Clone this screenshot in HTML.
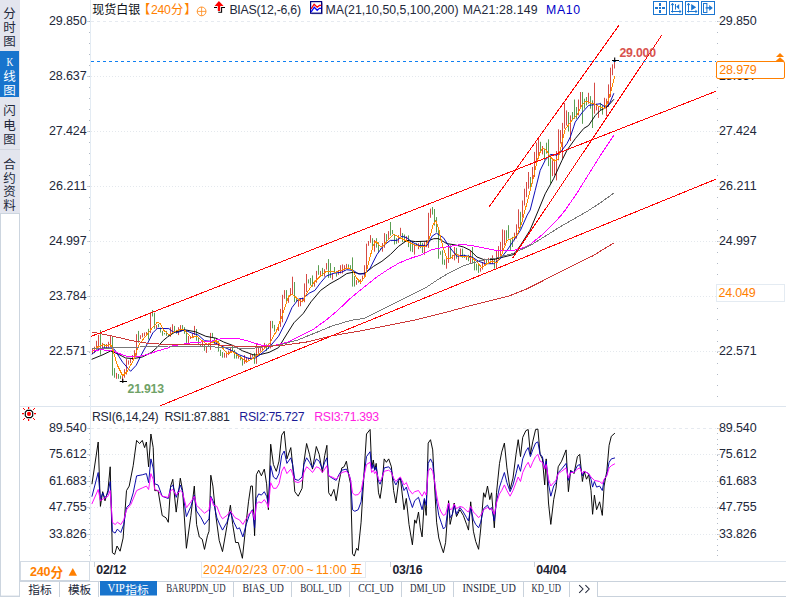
<!DOCTYPE html>
<html><head><meta charset="utf-8"><title>chart</title><style>html,body{margin:0;padding:0;background:#fff;width:786px;height:597px;overflow:hidden}svg{position:absolute;left:0;top:0}svg text{white-space:pre}</style></head><body><svg width="786" height="597" viewBox="0 0 786 597" style="display:block"><rect x="0" y="0" width="786" height="597" fill="#ffffff"/>
<rect x="0" y="0" width="20" height="213" fill="#e3e5ee"/>
<rect x="0" y="51" width="19" height="46" fill="#1874cd"/>
<rect x="0" y="149" width="20" height="1" fill="#d2d6e0"/>
<rect x="0" y="213" width="20" height="384" fill="#ccd5df"/><rect x="1" y="214" width="18" height="381.6" fill="#ffffff"/>
<text x="9.5" y="17.6" font-family="'Liberation Sans', 'Noto Sans CJK SC', sans-serif" font-size="12.5px" fill="#22283a" text-anchor="middle">分</text>
<text x="9.5" y="31.6" font-family="'Liberation Sans', 'Noto Sans CJK SC', sans-serif" font-size="12.5px" fill="#22283a" text-anchor="middle">时</text>
<text x="9.5" y="46" font-family="'Liberation Sans', 'Noto Sans CJK SC', sans-serif" font-size="12.5px" fill="#22283a" text-anchor="middle">图</text>
<text x="9.5" y="81" font-family="'Liberation Sans', 'Noto Sans CJK SC', sans-serif" font-size="12.5px" fill="#ffffff" text-anchor="middle">线</text>
<text x="9.5" y="94.6" font-family="'Liberation Sans', 'Noto Sans CJK SC', sans-serif" font-size="12.5px" fill="#ffffff" text-anchor="middle">图</text>
<text x="6.6" y="65.6" font-family="'Liberation Serif', serif" font-size="11.5px" fill="#fff" textLength="6.8" lengthAdjust="spacingAndGlyphs">K</text>
<text x="9.5" y="115.2" font-family="'Liberation Sans', 'Noto Sans CJK SC', sans-serif" font-size="12.5px" fill="#22283a" text-anchor="middle">闪</text>
<text x="9.5" y="129.6" font-family="'Liberation Sans', 'Noto Sans CJK SC', sans-serif" font-size="12.5px" fill="#22283a" text-anchor="middle">电</text>
<text x="9.5" y="144.4" font-family="'Liberation Sans', 'Noto Sans CJK SC', sans-serif" font-size="12.5px" fill="#22283a" text-anchor="middle">图</text>
<text x="9.5" y="169" font-family="'Liberation Sans', 'Noto Sans CJK SC', sans-serif" font-size="12.5px" fill="#22283a" text-anchor="middle">合</text>
<text x="9.5" y="182.6" font-family="'Liberation Sans', 'Noto Sans CJK SC', sans-serif" font-size="12.5px" fill="#22283a" text-anchor="middle">约</text>
<text x="9.5" y="196.2" font-family="'Liberation Sans', 'Noto Sans CJK SC', sans-serif" font-size="12.5px" fill="#22283a" text-anchor="middle">资</text>
<text x="9.5" y="209.8" font-family="'Liberation Sans', 'Noto Sans CJK SC', sans-serif" font-size="12.5px" fill="#22283a" text-anchor="middle">料</text>
<rect x="20" y="406" width="766" height="1" fill="#dde5ee"/>
<rect x="90" y="561" width="696" height="1" fill="#dde5ee"/>
<rect x="90" y="0" width="1" height="562" fill="#e3ebf3"/>
<path d="M91 21.5 H716" stroke="#e6eaf0" stroke-width="1" stroke-dasharray="3 3" fill="none"/>
<rect x="87" y="21" width="3" height="1" fill="#cfd3da"/><rect x="717" y="21" width="3" height="1" fill="#d4d8de"/>
<path d="M91 76.5 H716" stroke="#e4e8ed" stroke-width="1" stroke-dasharray="1 2" fill="none"/>
<rect x="87" y="76" width="3" height="1" fill="#cfd3da"/><rect x="717" y="76" width="3" height="1" fill="#d4d8de"/>
<path d="M91 131.5 H716" stroke="#e4e8ed" stroke-width="1" stroke-dasharray="1 2" fill="none"/>
<rect x="87" y="131" width="3" height="1" fill="#cfd3da"/><rect x="717" y="131" width="3" height="1" fill="#d4d8de"/>
<path d="M91 186.5 H716" stroke="#e4e8ed" stroke-width="1" stroke-dasharray="1 2" fill="none"/>
<rect x="87" y="186" width="3" height="1" fill="#cfd3da"/><rect x="717" y="186" width="3" height="1" fill="#d4d8de"/>
<path d="M91 241.5 H716" stroke="#e4e8ed" stroke-width="1" stroke-dasharray="1 2" fill="none"/>
<rect x="87" y="241" width="3" height="1" fill="#cfd3da"/><rect x="717" y="241" width="3" height="1" fill="#d4d8de"/>
<path d="M91 296.5 H716" stroke="#e4e8ed" stroke-width="1" stroke-dasharray="1 2" fill="none"/>
<rect x="87" y="296" width="3" height="1" fill="#cfd3da"/><rect x="717" y="296" width="3" height="1" fill="#d4d8de"/>
<path d="M91 351.5 H716" stroke="#e4e8ed" stroke-width="1" stroke-dasharray="1 2" fill="none"/>
<rect x="87" y="351" width="3" height="1" fill="#cfd3da"/><rect x="717" y="351" width="3" height="1" fill="#d4d8de"/>
<path d="M91 428.5 H716" stroke="#e6eaf0" stroke-width="1" stroke-dasharray="3 3" fill="none"/>
<rect x="87" y="428" width="3" height="1" fill="#cfd3da"/><rect x="717" y="428" width="3" height="1" fill="#d4d8de"/>
<path d="M91 454.5 H716" stroke="#e4e8ed" stroke-width="1" stroke-dasharray="1 2" fill="none"/>
<rect x="87" y="454" width="3" height="1" fill="#cfd3da"/><rect x="717" y="454" width="3" height="1" fill="#d4d8de"/>
<path d="M91 481.5 H716" stroke="#e4e8ed" stroke-width="1" stroke-dasharray="1 2" fill="none"/>
<rect x="87" y="481" width="3" height="1" fill="#cfd3da"/><rect x="717" y="481" width="3" height="1" fill="#d4d8de"/>
<path d="M91 507.5 H716" stroke="#e4e8ed" stroke-width="1" stroke-dasharray="1 2" fill="none"/>
<rect x="87" y="507" width="3" height="1" fill="#cfd3da"/><rect x="717" y="507" width="3" height="1" fill="#d4d8de"/>
<path d="M91 534.5 H716" stroke="#e4e8ed" stroke-width="1" stroke-dasharray="1 2" fill="none"/>
<rect x="87" y="534" width="3" height="1" fill="#cfd3da"/><rect x="717" y="534" width="3" height="1" fill="#d4d8de"/>
<rect x="89" y="21" width="1" height="1" fill="#b2bac6"/><rect x="717" y="21" width="1" height="1" fill="#b2bac6"/>
<rect x="89" y="32" width="1" height="1" fill="#b2bac6"/><rect x="717" y="32" width="1" height="1" fill="#b2bac6"/>
<rect x="89" y="43" width="1" height="1" fill="#b2bac6"/><rect x="717" y="43" width="1" height="1" fill="#b2bac6"/>
<rect x="89" y="54" width="1" height="1" fill="#b2bac6"/><rect x="717" y="54" width="1" height="1" fill="#b2bac6"/>
<rect x="89" y="65" width="1" height="1" fill="#b2bac6"/><rect x="717" y="65" width="1" height="1" fill="#b2bac6"/>
<rect x="89" y="76" width="1" height="1" fill="#b2bac6"/><rect x="717" y="76" width="1" height="1" fill="#b2bac6"/>
<rect x="89" y="87" width="1" height="1" fill="#b2bac6"/><rect x="717" y="87" width="1" height="1" fill="#b2bac6"/>
<rect x="89" y="98" width="1" height="1" fill="#b2bac6"/><rect x="717" y="98" width="1" height="1" fill="#b2bac6"/>
<rect x="89" y="109" width="1" height="1" fill="#b2bac6"/><rect x="717" y="109" width="1" height="1" fill="#b2bac6"/>
<rect x="89" y="120" width="1" height="1" fill="#b2bac6"/><rect x="717" y="120" width="1" height="1" fill="#b2bac6"/>
<rect x="89" y="131" width="1" height="1" fill="#b2bac6"/><rect x="717" y="131" width="1" height="1" fill="#b2bac6"/>
<rect x="89" y="142" width="1" height="1" fill="#b2bac6"/><rect x="717" y="142" width="1" height="1" fill="#b2bac6"/>
<rect x="89" y="153" width="1" height="1" fill="#b2bac6"/><rect x="717" y="153" width="1" height="1" fill="#b2bac6"/>
<rect x="89" y="164" width="1" height="1" fill="#b2bac6"/><rect x="717" y="164" width="1" height="1" fill="#b2bac6"/>
<rect x="89" y="175" width="1" height="1" fill="#b2bac6"/><rect x="717" y="175" width="1" height="1" fill="#b2bac6"/>
<rect x="89" y="186" width="1" height="1" fill="#b2bac6"/><rect x="717" y="186" width="1" height="1" fill="#b2bac6"/>
<rect x="89" y="197" width="1" height="1" fill="#b2bac6"/><rect x="717" y="197" width="1" height="1" fill="#b2bac6"/>
<rect x="89" y="208" width="1" height="1" fill="#b2bac6"/><rect x="717" y="208" width="1" height="1" fill="#b2bac6"/>
<rect x="89" y="219" width="1" height="1" fill="#b2bac6"/><rect x="717" y="219" width="1" height="1" fill="#b2bac6"/>
<rect x="89" y="230" width="1" height="1" fill="#b2bac6"/><rect x="717" y="230" width="1" height="1" fill="#b2bac6"/>
<rect x="89" y="241" width="1" height="1" fill="#b2bac6"/><rect x="717" y="241" width="1" height="1" fill="#b2bac6"/>
<rect x="89" y="252" width="1" height="1" fill="#b2bac6"/><rect x="717" y="252" width="1" height="1" fill="#b2bac6"/>
<rect x="89" y="263" width="1" height="1" fill="#b2bac6"/><rect x="717" y="263" width="1" height="1" fill="#b2bac6"/>
<rect x="89" y="274" width="1" height="1" fill="#b2bac6"/><rect x="717" y="274" width="1" height="1" fill="#b2bac6"/>
<rect x="89" y="285" width="1" height="1" fill="#b2bac6"/><rect x="717" y="285" width="1" height="1" fill="#b2bac6"/>
<rect x="89" y="296" width="1" height="1" fill="#b2bac6"/><rect x="717" y="296" width="1" height="1" fill="#b2bac6"/>
<rect x="89" y="308" width="1" height="1" fill="#b2bac6"/><rect x="717" y="308" width="1" height="1" fill="#b2bac6"/>
<rect x="89" y="319" width="1" height="1" fill="#b2bac6"/><rect x="717" y="319" width="1" height="1" fill="#b2bac6"/>
<rect x="89" y="330" width="1" height="1" fill="#b2bac6"/><rect x="717" y="330" width="1" height="1" fill="#b2bac6"/>
<rect x="89" y="341" width="1" height="1" fill="#b2bac6"/><rect x="717" y="341" width="1" height="1" fill="#b2bac6"/>
<rect x="89" y="352" width="1" height="1" fill="#b2bac6"/><rect x="717" y="352" width="1" height="1" fill="#b2bac6"/>
<rect x="89" y="363" width="1" height="1" fill="#b2bac6"/><rect x="717" y="363" width="1" height="1" fill="#b2bac6"/>
<rect x="89" y="374" width="1" height="1" fill="#b2bac6"/><rect x="717" y="374" width="1" height="1" fill="#b2bac6"/>
<rect x="89" y="385" width="1" height="1" fill="#b2bac6"/><rect x="717" y="385" width="1" height="1" fill="#b2bac6"/>
<rect x="89" y="396" width="1" height="1" fill="#b2bac6"/><rect x="717" y="396" width="1" height="1" fill="#b2bac6"/>
<rect x="89" y="428" width="1" height="1" fill="#b2bac6"/><rect x="717" y="428" width="1" height="1" fill="#b2bac6"/>
<rect x="89" y="433" width="1" height="1" fill="#b2bac6"/><rect x="717" y="433" width="1" height="1" fill="#b2bac6"/>
<rect x="89" y="439" width="1" height="1" fill="#b2bac6"/><rect x="717" y="439" width="1" height="1" fill="#b2bac6"/>
<rect x="89" y="444" width="1" height="1" fill="#b2bac6"/><rect x="717" y="444" width="1" height="1" fill="#b2bac6"/>
<rect x="89" y="449" width="1" height="1" fill="#b2bac6"/><rect x="717" y="449" width="1" height="1" fill="#b2bac6"/>
<rect x="89" y="455" width="1" height="1" fill="#b2bac6"/><rect x="717" y="455" width="1" height="1" fill="#b2bac6"/>
<rect x="89" y="460" width="1" height="1" fill="#b2bac6"/><rect x="717" y="460" width="1" height="1" fill="#b2bac6"/>
<rect x="89" y="465" width="1" height="1" fill="#b2bac6"/><rect x="717" y="465" width="1" height="1" fill="#b2bac6"/>
<rect x="89" y="470" width="1" height="1" fill="#b2bac6"/><rect x="717" y="470" width="1" height="1" fill="#b2bac6"/>
<rect x="89" y="476" width="1" height="1" fill="#b2bac6"/><rect x="717" y="476" width="1" height="1" fill="#b2bac6"/>
<rect x="89" y="481" width="1" height="1" fill="#b2bac6"/><rect x="717" y="481" width="1" height="1" fill="#b2bac6"/>
<rect x="89" y="486" width="1" height="1" fill="#b2bac6"/><rect x="717" y="486" width="1" height="1" fill="#b2bac6"/>
<rect x="89" y="492" width="1" height="1" fill="#b2bac6"/><rect x="717" y="492" width="1" height="1" fill="#b2bac6"/>
<rect x="89" y="497" width="1" height="1" fill="#b2bac6"/><rect x="717" y="497" width="1" height="1" fill="#b2bac6"/>
<rect x="89" y="502" width="1" height="1" fill="#b2bac6"/><rect x="717" y="502" width="1" height="1" fill="#b2bac6"/>
<rect x="89" y="508" width="1" height="1" fill="#b2bac6"/><rect x="717" y="508" width="1" height="1" fill="#b2bac6"/>
<rect x="89" y="513" width="1" height="1" fill="#b2bac6"/><rect x="717" y="513" width="1" height="1" fill="#b2bac6"/>
<rect x="89" y="518" width="1" height="1" fill="#b2bac6"/><rect x="717" y="518" width="1" height="1" fill="#b2bac6"/>
<rect x="89" y="523" width="1" height="1" fill="#b2bac6"/><rect x="717" y="523" width="1" height="1" fill="#b2bac6"/>
<rect x="89" y="529" width="1" height="1" fill="#b2bac6"/><rect x="717" y="529" width="1" height="1" fill="#b2bac6"/>
<rect x="89" y="534" width="1" height="1" fill="#b2bac6"/><rect x="717" y="534" width="1" height="1" fill="#b2bac6"/>
<rect x="89" y="539" width="1" height="1" fill="#b2bac6"/><rect x="717" y="539" width="1" height="1" fill="#b2bac6"/>
<rect x="89" y="545" width="1" height="1" fill="#b2bac6"/><rect x="717" y="545" width="1" height="1" fill="#b2bac6"/>
<rect x="89" y="550" width="1" height="1" fill="#b2bac6"/><rect x="717" y="550" width="1" height="1" fill="#b2bac6"/>
<rect x="89" y="555" width="1" height="1" fill="#b2bac6"/><rect x="717" y="555" width="1" height="1" fill="#b2bac6"/>
<text x="86.6" y="25.2" font-family="'Liberation Sans', sans-serif" font-size="12.5px" fill="#22283a" font-weight="normal" text-anchor="end" textLength="37.6" lengthAdjust="spacing" >29.850</text>
<text x="719" y="25.2" font-family="'Liberation Sans', sans-serif" font-size="12.5px" fill="#22283a" font-weight="normal" text-anchor="start" textLength="37.6" lengthAdjust="spacing" >29.850</text>
<text x="86.6" y="80.2" font-family="'Liberation Sans', sans-serif" font-size="12.5px" fill="#22283a" font-weight="normal" text-anchor="end" textLength="37.6" lengthAdjust="spacing" >28.637</text>
<text x="719" y="80.2" font-family="'Liberation Sans', sans-serif" font-size="12.5px" fill="#22283a" font-weight="normal" text-anchor="start" textLength="37.6" lengthAdjust="spacing" >28.637</text>
<text x="86.6" y="135.2" font-family="'Liberation Sans', sans-serif" font-size="12.5px" fill="#22283a" font-weight="normal" text-anchor="end" textLength="37.6" lengthAdjust="spacing" >27.424</text>
<text x="719" y="135.2" font-family="'Liberation Sans', sans-serif" font-size="12.5px" fill="#22283a" font-weight="normal" text-anchor="start" textLength="37.6" lengthAdjust="spacing" >27.424</text>
<text x="86.6" y="190.2" font-family="'Liberation Sans', sans-serif" font-size="12.5px" fill="#22283a" font-weight="normal" text-anchor="end" textLength="37.6" lengthAdjust="spacing" >26.211</text>
<text x="719" y="190.2" font-family="'Liberation Sans', sans-serif" font-size="12.5px" fill="#22283a" font-weight="normal" text-anchor="start" textLength="37.6" lengthAdjust="spacing" >26.211</text>
<text x="86.6" y="245.2" font-family="'Liberation Sans', sans-serif" font-size="12.5px" fill="#22283a" font-weight="normal" text-anchor="end" textLength="37.6" lengthAdjust="spacing" >24.997</text>
<text x="719" y="245.2" font-family="'Liberation Sans', sans-serif" font-size="12.5px" fill="#22283a" font-weight="normal" text-anchor="start" textLength="37.6" lengthAdjust="spacing" >24.997</text>
<text x="86.6" y="300.2" font-family="'Liberation Sans', sans-serif" font-size="12.5px" fill="#22283a" font-weight="normal" text-anchor="end" textLength="37.6" lengthAdjust="spacing" >23.784</text>
<text x="719" y="300.2" font-family="'Liberation Sans', sans-serif" font-size="12.5px" fill="#22283a" font-weight="normal" text-anchor="start" textLength="37.6" lengthAdjust="spacing" >23.784</text>
<text x="86.6" y="355.2" font-family="'Liberation Sans', sans-serif" font-size="12.5px" fill="#22283a" font-weight="normal" text-anchor="end" textLength="37.6" lengthAdjust="spacing" >22.571</text>
<text x="719" y="355.2" font-family="'Liberation Sans', sans-serif" font-size="12.5px" fill="#22283a" font-weight="normal" text-anchor="start" textLength="37.6" lengthAdjust="spacing" >22.571</text>
<text x="86.6" y="432.2" font-family="'Liberation Sans', sans-serif" font-size="12.5px" fill="#22283a" font-weight="normal" text-anchor="end" textLength="37.6" lengthAdjust="spacing" >89.540</text>
<text x="719" y="432.2" font-family="'Liberation Sans', sans-serif" font-size="12.5px" fill="#22283a" font-weight="normal" text-anchor="start" textLength="37.6" lengthAdjust="spacing" >89.540</text>
<text x="86.6" y="458.2" font-family="'Liberation Sans', sans-serif" font-size="12.5px" fill="#22283a" font-weight="normal" text-anchor="end" textLength="37.6" lengthAdjust="spacing" >75.612</text>
<text x="719" y="458.2" font-family="'Liberation Sans', sans-serif" font-size="12.5px" fill="#22283a" font-weight="normal" text-anchor="start" textLength="37.6" lengthAdjust="spacing" >75.612</text>
<text x="86.6" y="485.2" font-family="'Liberation Sans', sans-serif" font-size="12.5px" fill="#22283a" font-weight="normal" text-anchor="end" textLength="37.6" lengthAdjust="spacing" >61.683</text>
<text x="719" y="485.2" font-family="'Liberation Sans', sans-serif" font-size="12.5px" fill="#22283a" font-weight="normal" text-anchor="start" textLength="37.6" lengthAdjust="spacing" >61.683</text>
<text x="86.6" y="511.2" font-family="'Liberation Sans', sans-serif" font-size="12.5px" fill="#22283a" font-weight="normal" text-anchor="end" textLength="37.6" lengthAdjust="spacing" >47.755</text>
<text x="719" y="511.2" font-family="'Liberation Sans', sans-serif" font-size="12.5px" fill="#22283a" font-weight="normal" text-anchor="start" textLength="37.6" lengthAdjust="spacing" >47.755</text>
<text x="86.6" y="538.2" font-family="'Liberation Sans', sans-serif" font-size="12.5px" fill="#22283a" font-weight="normal" text-anchor="end" textLength="37.6" lengthAdjust="spacing" >33.826</text>
<text x="719" y="538.2" font-family="'Liberation Sans', sans-serif" font-size="12.5px" fill="#22283a" font-weight="normal" text-anchor="start" textLength="37.6" lengthAdjust="spacing" >33.826</text>
<path d="M92.5 348.8V354.2M94.5 346.7V353.1M96.5 340.8V349.9M98.5 334.9V347.7M102.5 342.9V348.8M106.5 344V348.3M108.5 341.8V347.7M110.5 335.9V347.2M116.5 372.9V378.8M122.5 376.1V381.5M124.5 369.2V377.7M126.5 359V374.5M128.5 360.4V364.6M130.5 358.8V363.1M132.5 355V359.9M134.5 350.2V357.7M136.5 334.2V355.6M140.5 335.2V339M142.5 333.1V337.4M144.5 332.5V336.3M146.5 332V335.8M150.5 312.2V333.1M156.5 325V328.8M170.5 327.2V336.8M172.5 324.2V332.9M178.5 327.2V335.1M180.5 325.1V330.7M188.5 336V343.4M190.5 336.8V339M192.5 333.3V338.1M194.5 325.9V335.1M202.5 341.6V346M206.5 346V352.9M210.5 332.9V349.9M216.5 339V343.8M224.5 352.9V357.7M226.5 351.6V357.7M228.5 350.7V355.1M230.5 347.3V352.9M238.5 354.7V358.6M244.5 355.1V363.8M246.5 357.7V362.9M248.5 357.7V361.2M250.5 354.2V358.6M252.5 354.7V356.8M256.5 343.3V363.8M258.5 346.4V353.8M260.5 347.3V351.6M262.5 347.3V351.2M264.5 342.9V348.1M270.5 320.9V348.4M276.5 329V332.3M278.5 324.9V331M280.5 308.9V326.9M282.5 294.8V322.3M284.5 290.1V298.8M288.5 295.5V302.8M290.5 288.1V296.1M292.5 276.7V294.1M298.5 299.5V306.8M300.5 298.1V306.2M302.5 297.5V302.2M304.5 283.4V302.2M306.5 274V292.1M314.5 280.7V286.7M316.5 270.9V282.7M320.5 270.9V275.3M324.5 269.2V276.6M326.5 263.1V269.6M332.5 273.5V279.6M338.5 270V274.8M340.5 265.2V273.5M342.5 264.4V273.5M344.5 265.2V270.9M346.5 263.9V268.7M356.5 280.1V284.8M360.5 279.2V284M362.5 275.7V280.5M364.5 265.2V278.1M366.5 243.7V269.7M368.5 241V245.8M370.5 235.1V242.8M374.5 240V251.7M382.5 243V251.7M384.5 233.1V247.8M388.5 231.1V238.9M398.5 235.1V242.8M400.5 227.8V236.4M406.5 236.2V240.2M414.5 244.6V254.6M418.5 243.2V249.2M424.5 242.2V254.8M426.5 240.2V247.2M428.5 212.8V247.9M430.5 208.6V217.8M446.5 257V268.7M448.5 244.9V262.9M452.5 254.9V259.1M454.5 247V260.4M458.5 254.5V262.9M460.5 248.6V257M466.5 256.2V259.9M470.5 250.3V263.7M480.5 267.9V271.7M482.5 262V269.6M484.5 258.7V265.4M488.5 257.9V263.7M492.5 255.3V263.7M496.5 250.3V268.3M498.5 246.1V260.4M500.5 241.9V257M502.5 229.4V252M504.5 230.2V245.3M514.5 232.7V240.3M516.5 224.3V238.6M518.5 209.3V228.5M522.5 200.5V217.6M524.5 188.7V205.5M526.5 182V197.1M528.5 172V188.7M532.5 167V183.7M534.5 151.9V177M536.5 142.7V163.6M538.5 137.6V156.9M542.5 146V154.4M552.5 160.3V176.2M554.5 159.4V175.3M556.5 151V180.4M558.5 129.3V160.3M560.5 130.1V143.5M562.5 122.9V158.6M564.5 102.8V128.6M566.5 110.4V125.5M570.5 115.4V141M578.5 99.5V115.4M580.5 92V108.7M588.5 92.8V103.7M594.5 82.7V113.7M596.5 103.7V110.4M598.5 107V117.9M604.5 97.8V108.7M606.5 98.7V116.2M608.5 84.4V107M610.5 67.7V97M612.5 64.3V75.2M614.5 61V68.5" stroke="#d54a45" stroke-width="1" fill="none"/>
<path d="M100.5 330V354.7M104.5 344V348.3M112.5 336.5V375.6M114.5 368.1V377.7M118.5 374V378.8M120.5 375.6V378.8M138.5 330.9V342.7M148.5 328.8V339.5M152.5 310V316.5M154.5 312.7V328.8M158.5 324V327.2M160.5 327.7V332.5M162.5 330.9V335.8M164.5 333V334.4M166.5 330.9V335.8M168.5 334.2V336M174.5 325.9V332M176.5 329.9V333.8M182.5 325.1V330.3M184.5 327.2V333.8M186.5 330.7V342.9M196.5 329V340.7M198.5 337.3V345.1M200.5 343.8V346M204.5 344.2V350.8M208.5 343.4V346.8M212.5 332.9V337.3M214.5 338.1V343.8M218.5 340.7V351.6M220.5 349.9V356M222.5 352V357.7M232.5 346V351.6M234.5 349.9V358.6M236.5 352.5V358.6M240.5 356V360.3M242.5 358.6V365.6M254.5 352.9V363.8M266.5 344.4V351.1M268.5 343.7V349M272.5 320.9V328.3M274.5 324.9V331.6M286.5 290.1V303.5M294.5 282V302.2M296.5 296.8V301.5M308.5 279.4V283.4M310.5 278V285.4M312.5 275.4V286.7M318.5 265.2V274.8M322.5 267.9V276.1M328.5 259.1V277.9M330.5 263.1V277.9M334.5 267V273.1M336.5 273.1V276.6M348.5 264.4V268.7M350.5 265.2V269.6M352.5 257.4V286.6M354.5 276.1V286.6M358.5 279.6V282.7M372.5 238.2V246.8M376.5 238.2V247.6M378.5 242.2V252.4M380.5 248.4V250M386.5 234.1V243.3M390.5 222V235.6M392.5 230V234.1M394.5 234.1V244.5M396.5 238.2V243.8M402.5 233.1V242.2M404.5 234.5V242M408.5 235.4V247.1M410.5 240.4V251.3M412.5 241.2V252.1M416.5 243.2V246.2M420.5 241.7V248.2M422.5 242.9V253M432.5 207V214.6M434.5 209V225.6M436.5 217.1V232.2M438.5 230.2V258.7M440.5 251.2V254.8M442.5 250.3V264.5M444.5 259.5V265M450.5 245.3V258.7M456.5 247.8V258.7M462.5 248.6V257.8M464.5 254.5V257.9M468.5 254.9V261.2M472.5 247V263.7M474.5 258.7V270.4M476.5 263.7V270.4M478.5 263.7V272.9M486.5 259.5V264.6M490.5 260.4V263.7M494.5 258.7V268.7M506.5 230.2V241.9M508.5 225.2V238.6M510.5 238.6V250.3M512.5 236.9V247M520.5 211.8V228.5M530.5 177V187.9M540.5 141.8V151.9M544.5 148.5V160.3M546.5 142.7V153.6M548.5 139.3V166.1M550.5 155.2V183.7M568.5 112V131.5M572.5 112V120.4M574.5 99.5V118.8M576.5 107V118.8M582.5 92V123.8M584.5 98.7V108.7M586.5 97V105.4M590.5 96.1V108.7M592.5 100.3V128M600.5 102.8V110.4M602.5 105.4V114.6" stroke="#5a9e52" stroke-width="1" fill="none"/>
<path d="M92 359.2 L103 354.7 L110.6 351 L118 354 L125.7 358 L133.2 358.6 L142.2 357 L151.3 352.5 L157.3 347.2 L163.3 340.4 L167.6 336.9 L175.3 331.8 L185.4 329.9 L195.6 331.8 L205.8 336.3 L216 338.2 L223.6 342 L233.8 345.8 L242.7 350.9 L252.9 354.7 L257.6 355.2 L269 352.4 L278.6 347.6 L284.4 338 L293.9 322.8 L303.4 313.3 L311 301.8 L320.6 290.4 L330 283.7 L339.7 278.3 L346.7 273.6 L353.4 272.2 L360.1 273.9 L365.1 273.1 L373.5 266.4 L381.9 261.3 L390.3 254.6 L398.6 246.3 L407 240.4 L415.4 241.6 L427.1 241.2 L433.8 238.7 L438.4 238.6 L446.8 243.6 L455.1 244.9 L463.5 247 L470.2 250.3 L476.9 257 L483.6 259.5 L493.7 259.5 L503.7 257 L513.8 254.5 L520.5 245.3 L530 230.2 L538.5 210 L545.2 193.8 L553.6 178.7 L562 160.3 L567 150.2 L575.4 138.5 L583.8 128.4 L588.6 125.5 L595.3 115.4 L600.3 110.4 L607 107 L613.7 99.5" fill="none" stroke="#000000" stroke-width="0.95" stroke-linejoin="round" stroke-linecap="round" shape-rendering="crispEdges" />
<path d="M92 354 L97 350.2 L103 347.9 L110.6 347.9 L114.4 349.4 L122.7 362.3 L130.6 371.3 L136.2 365.3 L142.2 353.2 L148.3 341.9 L152.8 332.9 L157.3 328.4 L168.9 328.6 L172.7 331.8 L177.8 332.4 L184.2 329.9 L191.8 333 L198.2 335 L204.5 340.7 L210.9 341.3 L217.3 343.9 L223.6 347 L231.2 350.3 L238.9 354.7 L249 358.5 L255.4 357.9 L259.5 355.2 L269 347.6 L278.6 336.2 L286.3 320.9 L292 307.5 L298.7 298.9 L303.4 298.4 L309.2 293.2 L314.9 290.4 L320.6 282.7 L326.3 276 L334 273.2 L341.6 272.2 L346.7 269.7 L353.4 270.5 L358.4 273.9 L365.1 273.9 L370.2 268 L376.9 254.6 L383.6 245.4 L390.3 240.4 L397 240.4 L402 236.2 L407 237.9 L412 242.1 L418.7 245.4 L427.1 245.4 L432.1 236.2 L436.5 233.2 L443.4 237.7 L450.1 247.8 L456.8 256.2 L463.5 255.3 L471.9 257 L478.6 261.2 L485.3 263.7 L493.7 263.7 L500.4 258.7 L507.1 250.3 L513.8 240.3 L520.5 230.2 L527.2 215.1 L530.2 210 L535.2 190.4 L540.2 170.3 L545.2 160.3 L550.3 154.4 L557 155.2 L562 150.2 L567 143.5 L570.4 136.8 L573.7 126.8 L575.2 122.1 L581.9 112.9 L588.6 105.4 L595.3 104.5 L600.3 103.7 L605.3 107 L609.5 103.7 L613.7 93.6" fill="none" stroke="#0000b4" stroke-width="0.95" stroke-linejoin="round" stroke-linecap="round" shape-rendering="crispEdges" />
<path d="M92 350.2 L103 349.9 L112 350.6 L118 353 L127 356.5 L137.7 356.8 L148 354.4 L157.3 351 L168 348 L172.7 345.8 L183 344.3 L191.8 342.6 L211 341.3 L221 338.8 L236.3 338.2 L249 341.3 L261.5 345.3 L274.8 345.3 L288.2 341.9 L299.6 336.2 L313 329.5 L326.3 319.9 L337.8 310.4 L349.2 299.3 L358.4 291.7 L367.6 284.3 L376.8 277 L387.9 269.6 L398.9 263.1 L410 258.5 L421 254.9 L432.1 249.5 L443.1 247.5 L454.2 245.7 L461.5 244.4 L472.6 245.7 L480 247.2 L497 250.6 L512.1 250.6 L522.1 248.2 L529.6 245 L543 234 L559.7 217 L565.3 210 L576.4 194 L593.2 167 L600 156.1 L606.6 146 L613.9 135.1" fill="none" stroke="#ff00ff" stroke-width="1.0" stroke-linejoin="round" stroke-linecap="round" shape-rendering="crispEdges" />
<path d="M92 351.7 L97 347.2 L103 344.5 L106 345.7 L110.6 344.5 L112.9 350.2 L117.4 365.3 L122.7 375.8 L127.2 371.3 L133.2 360.7 L139.2 344.2 L145.3 336.6 L151.3 329.1 L157.3 322.3 L160.3 323.8 L163.8 330.5 L169.5 335 L174 331.8 L179 329.9 L184.2 329.9 L188 333.7 L191.2 337.5 L196.9 336.3 L202 340.7 L207 344.5 L212.2 342.6 L216 340.7 L219.8 344.5 L224.9 350.9 L227.4 354 L232.5 351.5 L238.9 356 L246.5 361.7 L252.9 358.5 L259 354 L265.3 347.6 L270 342.8 L276.7 330.4 L282.4 315.2 L288.2 297 L292 294.2 L297.7 298.9 L302.5 301.8 L307.3 292.3 L313 283.7 L320.6 276 L326.3 271.3 L335.9 272.2 L343.5 269.4 L348.4 268 L352.6 270.5 L356.8 278.1 L360.9 282.3 L365.1 276.4 L369.3 259.7 L373.5 244.6 L376 241.2 L380.2 246.3 L382.7 246.3 L387.7 240.4 L393.6 234.2 L398.6 237 L405.3 240.4 L412 243.7 L418.7 246.3 L425.4 246.3 L429.6 237.9 L433 225.3 L435.8 220.3 L438.8 229.5 L440.1 235.2 L443.4 248.6 L446.8 258.7 L451.8 257.8 L455.1 253.7 L460.2 256.2 L466.9 256.2 L471.9 257.8 L476.9 262 L481.9 267.9 L487 263.7 L492 261.2 L497 262.9 L502 253.7 L507.1 240.3 L512.1 238.6 L517.1 235.2 L522.1 221.8 L525.1 210 L530.2 190.4 L533.5 177 L536.9 161.9 L540.2 151.9 L542.7 148.2 L546.1 150.2 L550.3 156.9 L554.4 161.1 L557.8 159.4 L560.3 150.2 L562.8 138.5 L565.3 128.4 L566.8 127.1 L571.8 120.4 L576.8 115.4 L581.9 105.4 L586 101.2 L590.2 102.8 L595.3 104.5 L600.3 107 L604.5 108.7 L607.8 102 L611.2 90.3 L614.5 76.9" fill="none" stroke="#ff8a00" stroke-width="1.0" stroke-linejoin="round" stroke-linecap="round" shape-rendering="crispEdges" />
<path d="M92 348.7 L168 346 L211 346.8 L250 348.6 L280.5 344.7 L297.7 340 L316.8 332.3 L332 326 L340 323.6 L351.1 320.3 L364 318.4 L376.8 312 L395.3 302.8 L413.7 293.6 L426.6 287.1 L439.5 278.6 L446.8 274.3 L454.2 270.5 L463.5 265.6 L468.9 264.1 L480.3 260.6 L497 257.8 L513.8 253.2 L532.9 243.9 L559.7 227.1 L586.5 211.8 L600 203 L613.3 193.5" fill="none" stroke="#787878" stroke-width="1.0" stroke-linejoin="round" stroke-linecap="round" shape-rendering="crispEdges" />
<path d="M91.8 332 L112 336 L133 340.9 L148 343.4 L168 344.5 L211 344.6 L250 347 L280.5 345.7 L307.3 341.9 L330 336.2 L350 332.6 L358.4 331.4 L376.8 327.6 L395.3 323.9 L413.7 320.3 L432.1 315.7 L450.5 311.1 L468.9 306 L480 303.3 L509.5 295.8 L526.2 289.1 L543 280.7 L559.7 272.3 L576.4 264 L593.2 255.6 L613.3 243.2" fill="none" stroke="#cc3838" stroke-width="1.0" stroke-linejoin="round" stroke-linecap="round" shape-rendering="crispEdges" />
<path d="M91 336.4 L716.1 91.2" fill="none" stroke="#ff0000" stroke-width="1.0" stroke-linejoin="round" stroke-linecap="round" shape-rendering="crispEdges" />
<path d="M161 405.5 L716.1 179.1" fill="none" stroke="#ff0000" stroke-width="1.0" stroke-linejoin="round" stroke-linecap="round" shape-rendering="crispEdges" />
<path d="M489.2 206.8 L618.9 25.4" fill="none" stroke="#ff0000" stroke-width="1.0" stroke-linejoin="round" stroke-linecap="round" shape-rendering="crispEdges" />
<path d="M513 257.5 L661.8 35.1" fill="none" stroke="#ff0000" stroke-width="1.0" stroke-linejoin="round" stroke-linecap="round" shape-rendering="crispEdges" />
<path d="M91 61.5 H716" stroke="#1080f2" stroke-width="1.15" stroke-dasharray="3 3" fill="none"/>
<path d="M612 60.5H619M614.7 57.5V62" stroke="#000" stroke-width="1.1" fill="none"/>
<path d="M119.8 381.5H127M122.8 378.8V383" stroke="#000" stroke-width="1.1" fill="none"/>
<text x="619.4" y="56.9" font-family="'Liberation Sans', sans-serif" font-size="12.3px" fill="#d8524e" font-weight="bold" text-anchor="start" textLength="36.6" lengthAdjust="spacing" >29.000</text>
<text x="127.5" y="392.7" font-family="'Liberation Sans', sans-serif" font-size="12.3px" fill="#6fa267" font-weight="bold" text-anchor="start" textLength="36.6" lengthAdjust="spacing" >21.913</text>
<path d="M92 483.8 L98.2 442 L100.4 506.4 L102.7 491.7 L105 500.8 L107.9 490.6 L110.2 466.8 L112.4 552.8 L114.7 554.4 L117 546 L120.1 551.2 L123.1 538.1 L126.5 490.6 L129.2 486.1 L133.2 465.7 L136.6 440.4 L139.6 443.6 L142.3 440.4 L144.6 447.6 L146.4 442 L148.6 466.8 L150.9 434 L153.2 447.6 L154.7 490.6 L158.1 490.6 L162.2 515.5 L166 517.8 L168.3 522.3 L170.6 486.1 L172.8 479.3 L176.2 512.1 L180.3 478.2 L182.6 490.6 L186.4 548.3 L190.9 515.5 L194.3 486.1 L196.6 524.5 L199.3 537 L202.2 539.2 L204.5 549.4 L207.4 535.8 L209 531.3 L210.8 475.2 L212.9 486.1 L215.8 515.5 L219.2 540.4 L222.5 551.6 L227 525.6 L230.4 505.2 L232.7 524.4 L235.6 542.5 L238.3 542.5 L242.4 558.3 L246.2 522.2 L248.5 501.8 L250.8 486 L252.4 486 L254.6 535.7 L256.4 474.7 L258.7 470.2 L261.4 475.8 L264.3 469.1 L266.6 483.8 L268.4 509.7 L270.7 444.2 L273.4 464.5 L276.3 471.3 L279 461.2 L281.7 435.2 L284.2 431.3 L286.9 458.9 L290.8 447.6 L292.6 464.5 L294.8 491.7 L298.2 496.2 L302.1 488.3 L303.9 462.3 L306.6 443.5 L309.5 454.4 L312.5 469.1 L316.3 446.5 L319.2 454.4 L322.4 472.5 L324.7 455.5 L326.9 445.3 L328.7 492.8 L331 496.2 L333.9 489.4 L336.2 500.7 L338.9 482.6 L341.8 467.9 L344.1 466.8 L346.4 461.2 L349.1 477 L350.6 484 L352.5 553.8 L354.3 556.1 L356.6 548.2 L358.2 550.4 L361.1 522.2 L363.8 477 L366.5 434 L370.1 429.5 L371.7 467.9 L373.3 460 L374.7 470.2 L376.2 463.4 L378.5 492.8 L380.1 498.4 L381.9 486 L384.2 458.9 L386.4 462.3 L388.7 458.9 L391.4 466.8 L393.6 490.5 L395.9 503 L398.8 480.4 L400.4 478.1 L404 509.7 L406.3 498.4 L409 524.4 L412.4 544.8 L414.7 519.9 L416.2 523.3 L418.5 512 L420.3 527.8 L422.1 536.9 L424.4 499.6 L426.2 515.4 L428.2 443.1 L430.5 439.7 L432.7 449.9 L434.6 486 L436.6 522.2 L438.8 538 L441.1 545.9 L443.4 552.7 L445.6 542.5 L448.6 500.7 L450.1 524.4 L452.4 514.3 L454.2 503 L456.5 516.5 L459.9 509.7 L463.3 515.4 L466.6 524.4 L468.5 530.1 L470.7 501.8 L473.4 531.2 L475.7 541.4 L478.6 549.3 L480.7 529 L483.6 492.8 L485.2 497.3 L487.5 486 L489.8 499.6 L491.6 492.8 L494.3 527.8 L496.5 492.8 L499.5 463.4 L501.7 452.1 L504.4 443.1 L506.9 467.9 L510.1 489.4 L513 478.1 L516 454.4 L518.2 439.7 L520.5 456.6 L522.7 437.4 L525.9 430.6 L528.2 429.5 L530.4 454.4 L532.7 441.9 L535.6 429.5 L537.9 429.1 L540.1 454.4 L542.4 458.9 L544.7 484.9 L546.2 458.9 L548.5 503 L550.8 524.4 L553.7 499.6 L556 488.3 L558.2 466.8 L561.6 461.2 L566.1 449.9 L568.4 491.7 L570.7 470.2 L574 473.6 L577.4 456.6 L579.7 454.4 L582.4 481.5 L584.2 471.3 L586.5 479.2 L588.7 474.7 L591 490.5 L592.6 514.3 L594.4 495.1 L596.6 509.7 L599.6 501.8 L602.3 515.4 L604.1 486 L606.8 471.3 L609.1 445.3 L611.3 436.3 L614.6 433.4" fill="none" stroke="#000000" stroke-width="0.95" stroke-linejoin="round" stroke-linecap="round" shape-rendering="crispEdges" />
<path d="M92 496.3 L98.2 472.5 L100.4 499.7 L102.7 492.9 L105 498.5 L107.9 492.9 L110.2 481.6 L112.4 531.3 L115.1 533.1 L117.4 529.1 L120.8 532.5 L123.7 524.5 L126.5 507.6 L129.8 504.2 L133.2 492.9 L136.6 475.9 L142.3 474.8 L146.4 473.6 L148.6 482.7 L150.9 458.9 L153.2 468 L154.7 483.8 L158.1 485 L162.2 496.3 L168.3 498.5 L170.6 487.2 L172.8 485 L176.2 497.4 L180.3 485 L182.6 491.7 L186.4 516.6 L190.9 506.4 L194.3 495.1 L196.6 511 L201.1 517.8 L204.5 524.5 L209 518.9 L210.8 496.3 L213.5 501.9 L216.9 517.8 L219.5 524 L222.5 530.1 L227 522.2 L230.4 512 L233.8 522.2 L237.2 529 L239.5 527.8 L242.9 536.9 L246.2 524.4 L249.6 514.3 L252.4 509.7 L254.6 527.8 L256.4 498.4 L258.7 493.9 L261.4 495.1 L264.3 491.7 L266.6 496.2 L268.4 504.1 L270.7 465.7 L273.4 477 L276.3 479.2 L279 473.6 L281.7 455.5 L284.2 451 L286.9 463.4 L290.8 457.8 L292.6 464.5 L294.8 479.2 L298.2 480.4 L302.1 477 L303.9 464.5 L306.6 457.8 L309.5 462.3 L312.5 467.9 L316.3 458.9 L319.2 461.2 L322.4 469.1 L324.7 462.3 L326.9 457.8 L328.7 475.8 L332.1 478.1 L336.2 480.4 L338.9 474.7 L341.8 470.2 L346.4 469.1 L349.1 474.7 L350.6 480 L352.5 509.7 L354.8 511.3 L358.2 509.7 L361.1 501.8 L363.8 477 L366.5 456.6 L370.1 451.7 L371.7 469.1 L373.3 464.5 L374.7 470.2 L376.2 466.8 L378.5 481.5 L380.1 484.2 L381.9 479.2 L384.2 467.9 L388.7 466.8 L391.4 470.2 L393.6 480.4 L395.9 484.9 L398.8 479.2 L400.4 478.1 L404 490.5 L406.3 487.1 L409 497.3 L412.4 507.5 L414.7 500.7 L418.5 497.3 L422.1 509.7 L424.4 498.4 L426.2 505.2 L428.2 463.4 L430.5 458.9 L432.7 463.4 L434.6 481.5 L436.6 501.8 L438.8 515.4 L441.1 522.2 L443.4 529 L445.6 526.7 L448.6 503 L450.1 517.7 L452.4 514.3 L454.2 505.2 L456.5 514.3 L459.9 507.5 L463.3 512 L466.6 517.7 L468.5 521 L470.7 507.5 L473.4 519.9 L475.7 524.4 L478.6 527.8 L480.7 522.2 L483.6 508.6 L487.5 505.2 L489.8 509.7 L491.6 507.5 L494.3 521 L496.5 501.8 L499.5 487.1 L501.7 480.4 L504.4 472.5 L506.9 482.6 L510.1 491.7 L513 484.9 L516 473.6 L518.2 464.5 L520.5 471.3 L522.7 458.9 L525.9 451 L528.2 447.6 L530.4 456.6 L532.7 449.9 L535.6 443.1 L537.9 441.9 L540.1 454.4 L542.4 456.6 L544.7 469.1 L546.2 461.2 L548.5 483.8 L550.8 496.2 L553.7 486 L556 482.6 L558.2 472.5 L561.6 469.1 L566.1 463.4 L568.4 480.4 L570.7 471.3 L574 472.5 L577.4 465.7 L579.7 464.5 L582.4 475.8 L584.2 471.3 L588.7 473.6 L591 479.2 L592.6 487.1 L594.4 481.5 L596.6 487.1 L599.6 486 L602.3 490.5 L604.1 480.4 L606.8 474.7 L609.1 462.3 L611.3 458.9 L614.6 458" fill="none" stroke="#0000a8" stroke-width="0.95" stroke-linejoin="round" stroke-linecap="round" shape-rendering="crispEdges" />
<path d="M92 503.7 L98.2 489.5 L100.4 500.8 L103.8 498.5 L107.9 496.3 L110.2 490.6 L112.4 522.3 L115.1 524.5 L117.4 522.3 L120.8 524.5 L123.7 520 L126.5 509.8 L131 504.2 L136.6 490.6 L142.3 487.9 L146.4 486.1 L148.6 489.5 L150.9 473.6 L153.2 479.3 L154.7 489.5 L158.1 490.6 L162.2 496.3 L168.3 497.4 L170.6 490.6 L172.8 489.5 L176.2 495.1 L180.3 490.6 L182.6 492.9 L186.4 507.6 L190.9 501.9 L194.3 496.3 L196.6 505.3 L201.1 509.8 L204.5 513.2 L209 509.8 L210.8 497.4 L213.5 505.3 L216.9 506.4 L220.3 515.5 L222.5 518.8 L227 515.4 L230.4 510.9 L235 517.7 L239.5 519.9 L242.9 524.4 L246.2 518.8 L249.6 513.1 L252.4 510.9 L254.6 519.9 L256.4 504.1 L258.7 501.8 L261.4 503 L264.3 499.6 L266.6 503 L268.4 507.5 L270.7 482.6 L273.4 488.3 L276.3 488.3 L279 483.8 L281.7 471.3 L284.2 466.8 L286.9 473.6 L290.8 469.1 L292.6 473.6 L294.8 481.5 L298.2 482.6 L302.1 480.4 L303.9 472.5 L306.6 466.8 L309.5 469.1 L312.5 472.5 L316.3 466.8 L319.2 467.9 L322.4 472.5 L324.7 469.1 L326.9 465.7 L328.7 475.8 L332.1 477 L336.2 479.2 L338.9 475.8 L341.8 472.5 L346.4 471.3 L349.1 474.7 L350.6 480.4 L352.5 492.8 L354.8 495.1 L358.2 494.6 L361.1 490.5 L363.8 477 L366.5 464.5 L370.1 462.3 L371.7 472.5 L373.3 470.2 L374.7 473.6 L376.2 471.3 L378.5 479.2 L380.1 481.5 L381.9 478.1 L384.2 471.3 L388.7 470.2 L391.4 472.5 L393.6 478.1 L395.9 481.5 L398.8 478.1 L400.4 477 L404 484.9 L406.3 482.6 L409 489.4 L412.4 493.9 L414.7 491.7 L418.5 490.5 L422.1 496.2 L424.4 491.7 L426.2 495.1 L428.2 471.3 L430.5 467.9 L432.7 471.3 L434.6 481.5 L436.6 495.1 L438.8 506.4 L441.1 512 L443.4 515.4 L445.6 514.3 L448.6 503 L450.1 509.7 L452.4 508.6 L454.2 504.1 L456.5 508.6 L459.9 506.4 L463.3 507.5 L466.6 510.9 L468.5 512 L470.7 506.4 L473.4 512 L475.7 514.3 L478.6 517.7 L480.7 515.4 L483.6 509.7 L487.5 507.5 L489.8 509.7 L491.6 508.6 L494.3 514.3 L496.5 503 L499.5 493.9 L501.7 490.5 L504.4 484.9 L506.9 490.5 L510.1 496.2 L513 490.5 L516 482.6 L518.2 477 L520.5 481.5 L522.7 472.5 L525.9 465.7 L528.2 462.3 L530.4 467.9 L532.7 462.3 L535.6 456.6 L537.9 454.4 L540.1 461.2 L542.4 462.3 L544.7 469.1 L546.2 464.5 L548.5 479.2 L550.8 486 L553.7 482.6 L556 480.4 L558.2 473.6 L561.6 471.3 L566.1 467.9 L568.4 478.1 L570.7 472.5 L574 472.5 L577.4 469.1 L579.7 467.9 L582.4 473.6 L584.2 471.3 L588.7 473.6 L591 477 L594.4 480.4 L599.6 481.5 L602.3 483.8 L604.1 479.2 L606.8 475.8 L609.1 467.9 L611.3 465.7 L614.6 463.9" fill="none" stroke="#ff00ff" stroke-width="0.95" stroke-linejoin="round" stroke-linecap="round" shape-rendering="crispEdges" />
<rect x="716.5" y="61.5" width="68" height="17" rx="1.5" fill="#ffffff" stroke="#ff8000" stroke-width="1"/>
<text x="719.2" y="74" font-family="'Liberation Sans', sans-serif" font-size="12.5px" fill="#ff8000" font-weight="normal" text-anchor="start" textLength="37.6" lengthAdjust="spacing" >28.979</text>
<path d="M780 53L784 57H776ZM780 57.3L784.8 61.6H775.2Z" fill="#ff8000"/>
<rect x="716.5" y="284.5" width="68" height="17" fill="#ffffff" stroke="#e4ebf2" stroke-width="1"/>
<text x="718.4" y="296.9" font-family="'Liberation Sans', sans-serif" font-size="12.5px" fill="#ff8000" font-weight="normal" text-anchor="start" textLength="37.4" lengthAdjust="spacing" >24.049</text>
<text x="92.2" y="13.7" font-family="'Liberation Sans', 'Noto Sans CJK SC', sans-serif" font-size="12px" fill="#0c0f16" text-anchor="start">现货白银</text>
<text x="150.2" y="13.6" font-family="'Liberation Sans', 'Noto Sans CJK SC', sans-serif" font-size="12.3px" fill="#ff8000" text-anchor="end">【</text>
<text x="151" y="13.6" font-family="'Liberation Sans', sans-serif" font-size="12.3px" fill="#ff8000" font-weight="normal" text-anchor="start" textLength="19.9" lengthAdjust="spacing" >240</text>
<text x="171" y="13.6" font-family="'Liberation Sans', 'Noto Sans CJK SC', sans-serif" font-size="12.3px" fill="#ff8000" text-anchor="start">分</text>
<text x="184.2" y="13.6" font-family="'Liberation Sans', 'Noto Sans CJK SC', sans-serif" font-size="12.3px" fill="#ff8000" text-anchor="start">】</text>
<circle cx="201.6" cy="11.4" r="4.4" fill="none" stroke="#ff8a1a" stroke-width="0.9"/><path d="M197.2 11.4H206M201.6 7V15.8" stroke="#ff8a1a" stroke-width="0.8"/>
<path d="M218.9 1.1L223.6 6.1H220.2V10.9H217.8V6.1H214.6Z" fill="#ff0000"/><path d="M214 7.5H217M225 7.5H221.6V12.2H218.2" fill="none" stroke="#000" stroke-width="1.05"/>
<text x="229.4" y="13.7" font-family="'Liberation Sans', sans-serif" font-size="12.3px" fill="#22283a" font-weight="normal" text-anchor="start" textLength="71.6" lengthAdjust="spacing" >BIAS(12,-6,6)</text>
<rect x="311.6" y="2.6" width="11" height="11.6" fill="#8a8aa8"/><rect x="310.6" y="1.6" width="11" height="11.6" fill="#fff" stroke="#000080" stroke-width="1.2"/>
<path d="M311.2 8.8L314.1 4.2L317.2 7.2L319.4 5.4H321.2" fill="none" stroke="#ff0000" stroke-width="1.25"/><path d="M311.2 11.8L314.3 7.2L317.2 10.3L319.4 8.4H321.2" fill="none" stroke="#0000ff" stroke-width="1.25"/>
<text x="325.5" y="13.7" font-family="'Liberation Sans', sans-serif" font-size="12.3px" fill="#22283a" font-weight="normal" text-anchor="start" textLength="133" lengthAdjust="spacing" >MA(21,10,50,5,100,200)</text>
<text x="462.7" y="13.7" font-family="'Liberation Sans', sans-serif" font-size="12.3px" fill="#22283a" font-weight="normal" text-anchor="start" textLength="74.8" lengthAdjust="spacing" >MA21:28.149</text>
<text x="546.1" y="13.7" font-family="'Liberation Sans', sans-serif" font-size="12.3px" fill="#0000c8" font-weight="normal" text-anchor="start" textLength="34" lengthAdjust="spacing" >MA10</text>
<rect x="653.5" y="1.5" width="13" height="13" fill="#fff" stroke="#1b76d1" stroke-width="1"/>
<rect x="669.5" y="1.5" width="13" height="13" fill="#fff" stroke="#1b76d1" stroke-width="1"/>
<rect x="685.5" y="1.5" width="13" height="13" fill="#fff" stroke="#1b76d1" stroke-width="1"/>
<rect x="701.5" y="1.5" width="13" height="13" fill="#fff" stroke="#1b76d1" stroke-width="1"/>
<path d="M659 3h2v3h-2zM659 10h2v3h-2zM655 7h3v2h-3zM662 7h3v2h-3zM659 7h2v2h-2z" fill="#1b76d1"/>
<path d="M672.5 3.4V12.6M671 11.5H681M671.2 5.2L672.5 3.2L673.8 5.2M679.4 10.3L681.2 11.5L679.4 12.7M675.5 4V9.6" fill="none" stroke="#1b76d1" stroke-width="1"/><path d="M679.2 4V9.6L676.2 6.8Z" fill="#1b76d1"/>
<path d="M688.5 3.4V12.6M687 11.5H697M687.2 5.2L688.5 3.2L689.8 5.2M695.4 10.3L697.2 11.5L695.4 12.7" fill="none" stroke="#1b76d1" stroke-width="1"/><path d="M691.2 4V10.4L696.2 7.2Z" fill="#1b76d1"/>
<rect x="703.5" y="3.5" width="3.4" height="9" fill="none" stroke="#1b76d1" stroke-width="1"/><path d="M705.6 7.9H710" stroke="#1b76d1" stroke-width="1.4"/><path d="M709.2 5V10.8L712.8 7.9Z" fill="#1b76d1"/>
<path d="M27.1 410.3H30.9L32.7 412.1V415.8L30.9 417.6H27.1L25.3 415.8V412.1Z" fill="#fff" stroke="#000" stroke-width="1.15" stroke-linejoin="round"/><circle cx="29.0" cy="413.9" r="2.05" fill="#ff0000"/>
<path d="M28 407h1.2v2h-1.2zM28 419h1.2v2h-1.2zM22 413h2v1.2h-2zM34 413h2v1.2h-2zM23 408h1v1h-1zM24 409h1v1h-1zM34 408h1v1h-1zM33 409h1v1h-1zM23 419h1v1h-1zM24 418h1v1h-1zM33 418h1v1h-1zM34 419h1v1h-1z" fill="#ff0000"/>
<text x="92" y="421.2" font-family="'Liberation Sans', sans-serif" font-size="12.3px" fill="#22283a" font-weight="normal" text-anchor="start" textLength="66.6" lengthAdjust="spacing" >RSI(6,14,24)</text>
<text x="164.5" y="421.2" font-family="'Liberation Sans', sans-serif" font-size="12.3px" fill="#22283a" font-weight="normal" text-anchor="start" textLength="65.4" lengthAdjust="spacing" >RSI1:87.881</text>
<text x="239.3" y="421.2" font-family="'Liberation Sans', sans-serif" font-size="12.3px" fill="#1a1a96" font-weight="normal" text-anchor="start" textLength="65.4" lengthAdjust="spacing" >RSI2:75.727</text>
<text x="314.3" y="421.2" font-family="'Liberation Sans', sans-serif" font-size="12.3px" fill="#ff1ee0" font-weight="normal" text-anchor="start" textLength="64.8" lengthAdjust="spacing" >RSI3:71.393</text>
<rect x="20.5" y="561.5" width="69" height="19" fill="#fff" stroke="#d3dbe4" stroke-width="1"/>
<text x="30" y="576.3" font-family="'Liberation Sans', sans-serif" font-size="12.6px" fill="#ff7f00" font-weight="bold" text-anchor="start" textLength="20.6" lengthAdjust="spacing" >240</text>
<text x="50.4" y="577.2" font-family="'Liberation Sans', 'Noto Sans CJK SC', sans-serif" font-size="12.6px" fill="#ff7f00" font-weight="bold" text-anchor="start">分</text>
<path d="M72.8 568L77 575.8H68.6Z" fill="#ff7f00"/>
<text x="96.2" y="574.2" font-family="'Liberation Sans', sans-serif" font-size="12.3px" fill="#1c2230" font-weight="bold" text-anchor="start" textLength="30.2" lengthAdjust="spacing" >02/12</text>
<text x="392.4" y="574.2" font-family="'Liberation Sans', sans-serif" font-size="12.3px" fill="#1c2230" font-weight="bold" text-anchor="start" textLength="30.2" lengthAdjust="spacing" >03/16</text>
<text x="536.2" y="574.2" font-family="'Liberation Sans', sans-serif" font-size="12.3px" fill="#1c2230" font-weight="bold" text-anchor="start" textLength="30.2" lengthAdjust="spacing" >04/04</text>
<rect x="390" y="562" width="1" height="5" fill="#c9d2dc"/><rect x="534" y="562" width="1" height="5" fill="#c9d2dc"/><rect x="94" y="562" width="1" height="5" fill="#c9d2dc"/>
<rect x="201.5" y="561.5" width="164" height="16" fill="#fff" stroke="#e3e9f0" stroke-width="1"/>
<text x="202.9" y="573.9" font-family="'Liberation Sans', sans-serif" font-size="12.3px" fill="#ff8500" font-weight="normal" text-anchor="start" textLength="64.6" lengthAdjust="spacing" >2024/02/23</text>
<text x="272.4" y="573.9" font-family="'Liberation Sans', sans-serif" font-size="12.3px" fill="#ff8500" font-weight="normal" text-anchor="start" textLength="31.4" lengthAdjust="spacing" >07:00</text>
<text x="306.6" y="573.6" font-family="'Liberation Sans', sans-serif" font-size="12.3px" fill="#ff8500" font-weight="normal" text-anchor="start" >~</text>
<text x="315.9" y="573.9" font-family="'Liberation Sans', sans-serif" font-size="12.3px" fill="#ff8500" font-weight="normal" text-anchor="start" textLength="30.8" lengthAdjust="spacing" >11:00</text>
<text x="350.2" y="574.2" font-family="'Liberation Sans', 'Noto Sans CJK SC', sans-serif" font-size="12.3px" fill="#ff8500" text-anchor="start">五</text>
<rect x="20" y="581" width="766" height="16" fill="#ffffff"/>
<rect x="20" y="580" width="70" height="2" fill="#cdd6e0"/><rect x="90" y="581" width="696" height="1" fill="#c9d2dc"/>
<rect x="100" y="581" width="57" height="14.5" fill="#1874cd"/>
<rect x="59" y="582" width="1" height="15" fill="#c9d2dc"/>
<rect x="98" y="582" width="1" height="15" fill="#c9d2dc"/>
<rect x="233" y="582" width="1" height="15" fill="#c9d2dc"/>
<rect x="291" y="582" width="1" height="15" fill="#c9d2dc"/>
<rect x="349" y="582" width="1" height="15" fill="#c9d2dc"/>
<rect x="401" y="582" width="1" height="15" fill="#c9d2dc"/>
<rect x="453" y="582" width="1" height="15" fill="#c9d2dc"/>
<rect x="523" y="582" width="1" height="15" fill="#c9d2dc"/>
<rect x="569" y="582" width="1" height="15" fill="#c9d2dc"/>
<rect x="597" y="582" width="1" height="15" fill="#c9d2dc"/>
<rect x="598" y="596" width="188" height="1" fill="#c9d2dc"/>
<text x="28.3" y="593.6" font-family="'Liberation Sans', 'Noto Sans CJK SC', sans-serif" font-size="11.7px" fill="#22283a" text-anchor="start">指标</text>
<text x="67.9" y="593.6" font-family="'Liberation Sans', 'Noto Sans CJK SC', sans-serif" font-size="11.7px" fill="#22283a" text-anchor="start">模板</text>
<text x="107.4" y="592.4" font-family="'Liberation Serif', serif" font-size="11.5px" fill="#ffffff" textLength="17.4" lengthAdjust="spacingAndGlyphs">VIP</text>
<text x="125.3" y="593.6" font-family="'Liberation Sans', 'Noto Sans CJK SC', sans-serif" font-size="11.7px" fill="#ffffff" text-anchor="start">指标</text>
<text x="166.2" y="592.4" font-family="'Liberation Serif', serif" font-size="11.5px" fill="#22283a" textLength="59.4" lengthAdjust="spacingAndGlyphs">BARUPDN_UD</text>
<text x="242.4" y="592.4" font-family="'Liberation Serif', serif" font-size="11.5px" fill="#22283a" textLength="41.4" lengthAdjust="spacingAndGlyphs">BIAS_UD</text>
<text x="300.2" y="592.4" font-family="'Liberation Serif', serif" font-size="11.5px" fill="#22283a" textLength="41.4" lengthAdjust="spacingAndGlyphs">BOLL_UD</text>
<text x="358.2" y="592.4" font-family="'Liberation Serif', serif" font-size="11.5px" fill="#22283a" textLength="35.4" lengthAdjust="spacingAndGlyphs">CCI_UD</text>
<text x="410" y="592.4" font-family="'Liberation Serif', serif" font-size="11.5px" fill="#22283a" textLength="35.4" lengthAdjust="spacingAndGlyphs">DMI_UD</text>
<text x="462.4" y="592.4" font-family="'Liberation Serif', serif" font-size="11.5px" fill="#22283a" textLength="53.4" lengthAdjust="spacingAndGlyphs">INSIDE_UD</text>
<text x="531.6" y="592.4" font-family="'Liberation Serif', serif" font-size="11.5px" fill="#22283a" textLength="29.4" lengthAdjust="spacingAndGlyphs">KD_UD</text>
<path d="M579.2 585.2L583 589L579.2 592.8M585.4 585.2L589.2 589L585.4 592.8" fill="none" stroke="#22283a" stroke-width="1.05"/></svg></body></html>
